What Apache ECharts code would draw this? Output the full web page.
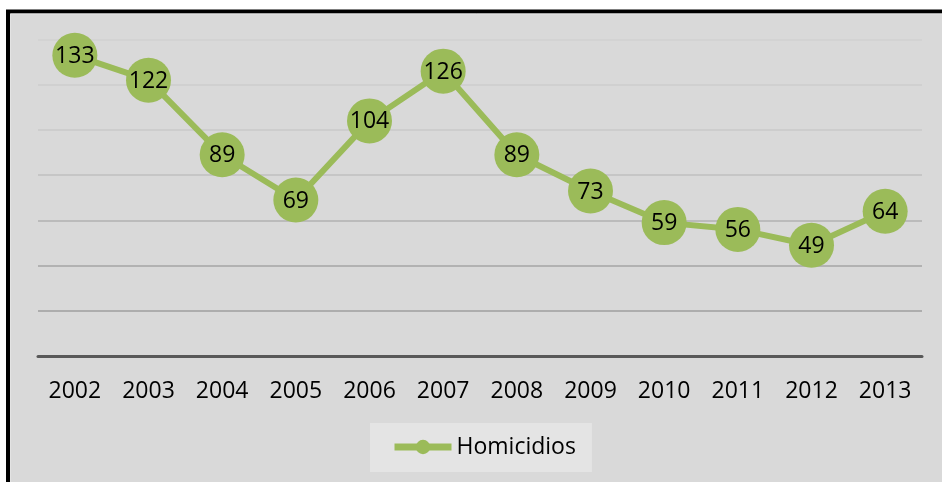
<!DOCTYPE html>
<html>
<head>
<meta charset="utf-8">
<script src="https://cdn.jsdelivr.net/npm/echarts@6/dist/echarts.min.js"></script>
<style>
html,body{margin:0;padding:0;background:#fff;}
#c{width:942px;height:482px;}
</style>
</head>
<body>
<div id="c"></div>
<script>
const years = ['2002','2003','2004','2005','2006','2007','2008','2009','2010','2011','2012','2013'];
const homicidios = [133,122,89,69,104,126,89,73,59,56,49,64];
const seriesName = 'Homicidios';
const gridColors = ['#a0a0a0','#9e9e9e','#a4a4a4','#b0b0b0','#bfbfbf','#c8c8c8','#cdcdcd','#d1d1d1'];

const FONT = '"Open Sans", sans-serif';
const chart = echarts.init(document.getElementById('c'), null, {renderer:'canvas'});
chart.setOption({
  backgroundColor:'#ffffff',
  animation:false,
  graphic:[
    {type:'rect', z:-10, silent:true, shape:{x:8, y:11.5, width:1000, height:520},
     style:{fill:'#d9d9d9', stroke:'#000', lineWidth:4}},
    {type:'rect', z:-9, silent:true, shape:{x:10.5, y:14, width:1000, height:520},
     style:{fill:null, stroke:'#e3e3e3', lineWidth:1}}
  ],
  grid:{left:38, right:20, top:39.5, bottom:126, containLabel:false},
  xAxis:{
    type:'category', data:years, boundaryGap:true,
    axisLine:{lineStyle:{color:'#595959', width:3}},
    axisTick:{show:false},
    axisLabel:{color:'#000', fontSize:23, fontFamily:FONT, margin:24}
  },
  yAxis:{
    type:'value', min:0, max:140, interval:20,
    axisLine:{show:false}, axisTick:{show:false}, axisLabel:{show:false},
    splitLine:{lineStyle:{color:gridColors, width:1.5}}
  },
  legend:{
    data:[seriesName], left:370, top:423,
    backgroundColor:'#e4e4e4',
    padding:[10,16,11,21],
    itemWidth:57, itemHeight:18,
    lineStyle:{width:7, color:'#9bbb59'},
    textStyle:{color:'#000', fontSize:23, fontFamily:FONT, lineHeight:28}
  },
  series:[{
    name:seriesName, type:'line', data:homicidios,
    symbol:'circle', symbolSize:45,
    lineStyle:{color:'#9bbb59', width:6},
    itemStyle:{color:'#9bbb59'},
    label:{show:true, position:'inside', offset:[0,1], color:'#000', fontSize:23, fontFamily:FONT},
    z:3
  }]
});
</script>
</body>
</html>
